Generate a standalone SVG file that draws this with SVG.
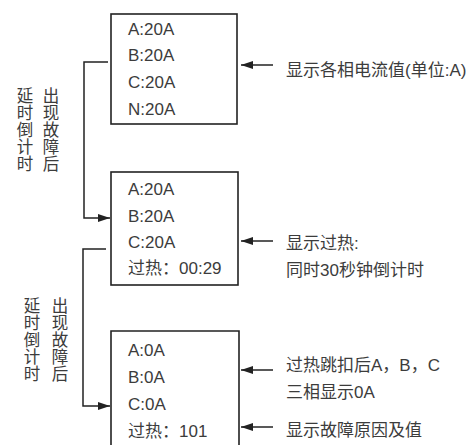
<svg xmlns="http://www.w3.org/2000/svg" width="475" height="445" viewBox="0 0 475 445">
<defs>
<marker id="ah" viewBox="0 0 12 8" refX="12" refY="4" markerWidth="12" markerHeight="8" markerUnits="userSpaceOnUse" orient="auto">
<path d="M0,0 L12,4 L0,8 Z" fill="#222"/>
</marker>
</defs>
<style>
.box{fill:#fff;stroke:#222;stroke-width:1.6}
.ln{fill:none;stroke:#222;stroke-width:1.5}
text{font-family:"Liberation Sans","Noto Sans CJK SC",sans-serif;font-size:17px;fill:#3c3c3c}
.v{text-anchor:middle;font-size:16.5px}
</style>
<rect width="475" height="445" fill="#fff"/>
<g id="box1">
<rect class="box" x="111" y="14" width="126" height="110"/>
<text x="128" y="35">A:20A</text>
<text x="128" y="61">B:20A</text>
<text x="128" y="88">C:20A</text>
<text x="128" y="115">N:20A</text>
</g>
<g id="box2">
<rect class="box" x="111" y="172" width="127" height="113"/>
<text x="128" y="195">A:20A</text>
<text x="128" y="222">B:20A</text>
<text x="128" y="248">C:20A</text>
<text x="128" y="274">过热：00:29</text>
</g>
<g id="box3">
<path class="box" d="M111,447 V331 H239 V447"/>
<text x="128" y="356">A:0A</text>
<text x="128" y="383">B:0A</text>
<text x="128" y="410">C:0A</text>
<text x="128" y="437">过热：101</text>
</g>
<g id="labels">
<text class="v"><tspan x="25" y="102">延</tspan><tspan x="25" y="119">时</tspan><tspan x="25" y="136">倒</tspan><tspan x="25" y="153">计</tspan><tspan x="25" y="170">时</tspan></text>
<text class="v"><tspan x="51" y="102">出</tspan><tspan x="51" y="119">现</tspan><tspan x="51" y="136">故</tspan><tspan x="51" y="153">障</tspan><tspan x="51" y="170">后</tspan></text>
<text class="v"><tspan x="32" y="312">延</tspan><tspan x="32" y="329">时</tspan><tspan x="32" y="346">倒</tspan><tspan x="32" y="363">计</tspan><tspan x="32" y="380">时</tspan></text>
<text class="v"><tspan x="60" y="312">出</tspan><tspan x="60" y="329">现</tspan><tspan x="60" y="346">故</tspan><tspan x="60" y="363">障</tspan><tspan x="60" y="380">后</tspan></text>
<text x="286" y="76">显示各相电流值(单位:A)</text>
<text x="286" y="249">显示过热:</text>
<text x="286" y="276">同时30秒钟倒计时</text>
<text x="286" y="371">过热跳扣后A，B，C</text>
<text x="286" y="398">三相显示0A</text>
<text x="286" y="436">显示故障原因及值</text>
</g>
<g id="connectors">
<path class="ln" d="M108,62 H84 V218 H110" marker-end="url(#ah)"/>
<path class="ln" d="M106,249 H83 V406 H110" marker-end="url(#ah)"/>
<path class="ln" d="M273,65 H241" marker-end="url(#ah)"/>
<path class="ln" d="M273,241 H241" marker-end="url(#ah)"/>
<path class="ln" d="M273,370 H241" marker-end="url(#ah)"/>
<path class="ln" d="M273,427 H241" marker-end="url(#ah)"/>
</g>
</svg>
